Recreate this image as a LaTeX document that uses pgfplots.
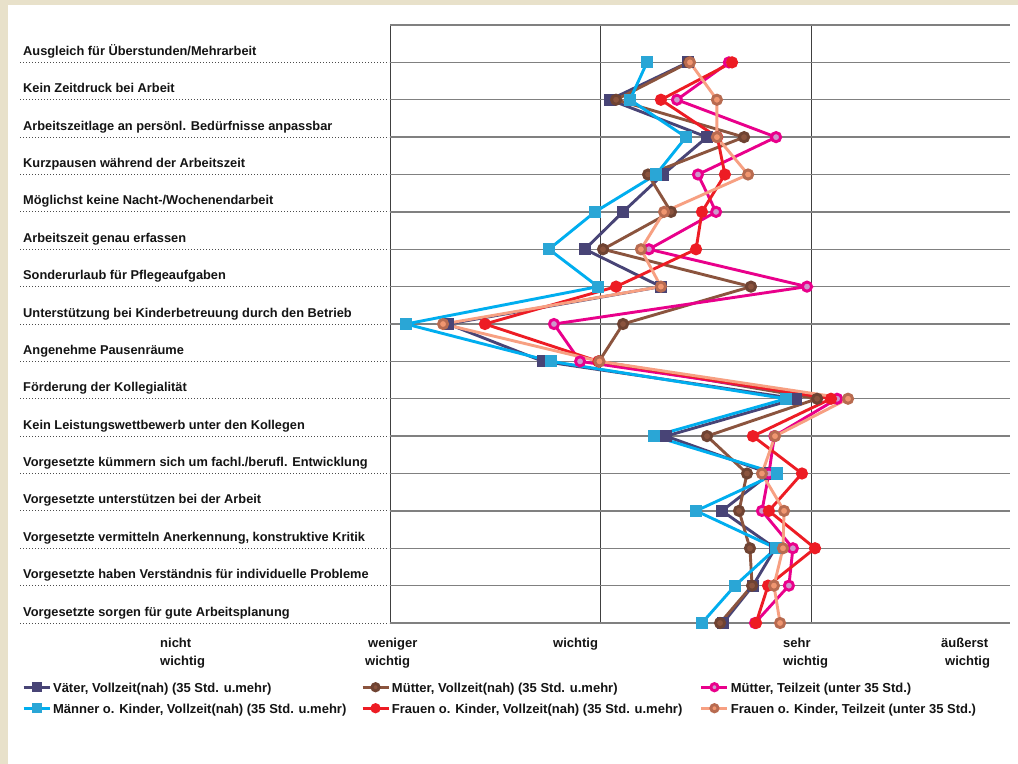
\documentclass[border=0pt]{standalone}
\usepackage{fontspec}
\setmainfont{Liberation Sans}
\usepackage{pgfplots}
\pgfplotsset{compat=1.18}

\definecolor{bgbeige}{RGB}{232,225,202}
\definecolor{vater}{RGB}{72,68,118}
\definecolor{muttervz}{RGB}{139,84,62}
\definecolor{muttertz}{RGB}{233,0,139}
\definecolor{muttertzfill}{RGB}{204,153,204}
\definecolor{maenner}{RGB}{0,174,239}
\definecolor{maennerfill}{RGB}{42,166,214}
\definecolor{frauenvz}{RGB}{237,28,36}
\definecolor{frauentz}{RGB}{247,160,130}
\definecolor{frauentzfill}{RGB}{240,150,112}
\definecolor{frauentzedge}{RGB}{184,107,80}
\definecolor{txt}{RGB}{20,20,20}

\newcommand{\lbl}{\fontsize{12.8bp}{15bp}\selectfont\bfseries\color{txt}}
\newcommand{\lgd}{\fontsize{13bp}{15bp}\selectfont\bfseries\color{txt}}
\newcommand{\lentry}[1]{\makebox[306bp][l]{\lgd #1}}

\begin{document}
\begin{tikzpicture}
% panel background
\fill[bgbeige] (0,0) rectangle (1018bp,-764bp);
\fill[white] (8bp,-5bp) rectangle (1018bp,-764bp);

\begin{axis}[
  at={(390bp,-623bp)}, anchor=south west,
  scale only axis, width=620bp, height=598bp,
  xmin=2, xmax=4.9454, ymin=-15, ymax=1,
  xtick={2,3,4}, ytick={-15,-14,...,1},
  xticklabels={}, yticklabels={},
  major tick length=0pt,
  xmajorgrids, ymajorgrids,
  x grid style={draw=black!75, line width=1bp},
  y grid style={draw=black!50, line width=1.4bp},
  axis line style={draw=none},
  clip=false,
  every axis plot/.append style={line width=2.9bp, mark size=4.6bp,
    mark options={solid, line width=0.8bp}},
  legend image code/.code={\draw[mark repeat=2,mark phase=2,#1]
    plot coordinates {(0bp,0bp) (13bp,0bp) (26bp,0bp)};},
  legend image post style={mark size=3.6bp},
  legend columns=3,
  legend cell align=left,
  legend style={at={(-0.59355,-0.0987)}, anchor=north west,
    draw=none, fill=none, inner xsep=0bp, inner ysep=0bp,
    row sep=11bp,
    nodes={inner xsep=2bp, inner ysep=0bp, text height=10bp, text depth=0bp}},
]
% Väter, Vollzeit(nah)
\addplot[color=vater, mark=square*, mark options={fill=vater, draw=vater}] coordinates {
 (3.416,0) (3.045,-1) (3.506,-2) (3.297,-3) (3.107,-4) (2.926,-5) (3.287,-6) (2.276,-7)
 (2.727,-8) (3.929,-9) (3.311,-10) (3.805,-11) (3.577,-12) (3.830,-13) (3.724,-14) (3.582,-15)};
\addlegendentry{\lentry{Väter, Vollzeit(nah) (35 Std. u.mehr)}}
% Mütter, Vollzeit(nah)
\addplot[color=muttervz, mark=*, mark options={fill=muttervz, draw=muttervz!80!black}] coordinates {
 (3.420,0) (3.074,-1) (3.682,-2) (3.226,-3) (3.335,-4) (3.012,-5) (3.715,-6) (3.107,-7)
 (2.993,-8) (4.029,-9) (3.506,-10) (3.696,-11) (3.658,-12) (3.710,-13) (3.720,-14) (3.568,-15)};
\addlegendentry{\lentry{Mütter, Vollzeit(nah) (35 Std. u.mehr)}}
% Mütter, Teilzeit
\addplot[color=muttertz, mark=*, mark options={fill=muttertzfill, draw=muttertz}] coordinates {
 (3.610,0) (3.363,-1) (3.834,-2) (3.463,-3) (3.549,-4) (3.230,-5) (3.981,-6) (2.779,-7)
 (2.903,-8) (4.124,-9) (3.826,-10) (3.800,-11) (3.767,-12) (3.914,-13) (3.895,-14) (3.734,-15)};
\addlegendentry{\lentry{Mütter, Teilzeit (unter 35 Std.)}}
% Männer ohne Kinder, Vollzeit(nah)
\addplot[color=maenner, mark=square*, mark options={fill=maennerfill, draw=maennerfill}] coordinates {
 (3.221,0) (3.140,-1) (3.406,-2) (3.264,-3) (2.974,-4) (2.755,-5) (2.988,-6) (2.076,-7)
 (2.765,-8) (3.881,-9) (3.254,-10) (3.838,-11) (3.454,-12) (3.834,-13) (3.639,-14) (3.482,-15)};
\addlegendentry{\lentry{Männer o. Kinder, Vollzeit(nah) (35 Std. u.mehr)}}
% Frauen ohne Kinder, Vollzeit(nah)
\addplot[color=frauenvz, mark=*, mark options={fill=frauenvz, draw=frauenvz}] coordinates {
 (3.625,0) (3.287,-1) (3.555,-2) (3.591,-3) (3.482,-4) (3.454,-5) (3.074,-6) (2.451,-7)
 (2.990,-8) (4.095,-9) (3.724,-10) (3.957,-11) (3.800,-12) (4.019,-13) (3.796,-14) (3.739,-15)};
\addlegendentry{\lentry{Frauen o. Kinder, Vollzeit(nah) (35 Std. u.mehr)}}
% Frauen ohne Kinder, Teilzeit
\addplot[color=frauentz, mark=*, mark options={fill=frauentzfill, draw=frauentzedge}] coordinates {
 (3.425,0) (3.553,-1) (3.553,-2) (3.701,-3) (3.302,-4) (3.192,-5) (3.287,-6) (2.252,-7)
 (2.995,-8) (4.176,-9) (3.829,-10) (3.767,-11) (3.872,-12) (3.867,-13) (3.824,-14) (3.853,-15)};
\addlegendentry{\lentry{Frauen o. Kinder, Teilzeit (unter 35 Std.)}}
\end{axis}

% item labels with dotted leaders
\foreach \t [count=\i from 0] in {
  {Ausgleich für Überstunden/Mehrarbeit},
  {Kein Zeitdruck bei Arbeit},
  {Arbeitszeitlage an persönl. Bedürfnisse anpassbar},
  {Kurzpausen während der Arbeitszeit},
  {Möglichst keine Nacht-/Wochenendarbeit},
  {Arbeitszeit genau erfassen},
  {Sonderurlaub für Pflegeaufgaben},
  {Unterstützung bei Kinderbetreuung durch den Betrieb},
  {Angenehme Pausenräume},
  {Förderung der Kollegialität},
  {Kein Leistungswettbewerb unter den Kollegen},
  {Vorgesetzte kümmern sich um fachl./berufl. Entwicklung},
  {Vorgesetzte unterstützen bei der Arbeit},
  {Vorgesetzte vermitteln Anerkennung, konstruktive Kritik},
  {Vorgesetzte haben Verständnis für individuelle Probleme},
  {Vorgesetzte sorgen für gute Arbeitsplanung}} {
  \pgfmathsetmacro\yy{-(62.375+37.375*\i)}
  \pgfmathsetmacro\yl{\yy+7}
  \draw[black!70, line width=0.9bp, dash pattern=on 1bp off 2bp] (20bp,\yy bp) -- (389bp,\yy bp);
  \node[anchor=base west, inner sep=0pt] at (23bp,\yl bp) {\lbl \t};
}

% scale labels
\node[anchor=base west, inner sep=0pt] at (160bp,-647bp) {\lgd nicht};
\node[anchor=base west, inner sep=0pt] at (160bp,-665bp) {\lgd wichtig};
\node[anchor=base west, inner sep=0pt] at (368bp,-647bp) {\lgd weniger};
\node[anchor=base west, inner sep=0pt] at (365bp,-665bp) {\lgd wichtig};
\node[anchor=base west, inner sep=0pt] at (553bp,-647bp) {\lgd wichtig};
\node[anchor=base west, inner sep=0pt] at (783bp,-647bp) {\lgd sehr};
\node[anchor=base west, inner sep=0pt] at (783bp,-665bp) {\lgd wichtig};
\node[anchor=base west, inner sep=0pt] at (941bp,-647bp) {\lgd äußerst};
\node[anchor=base west, inner sep=0pt] at (945bp,-665bp) {\lgd wichtig};

\pgfresetboundingbox
\useasboundingbox (0,0) rectangle (1018bp,-764bp);
\end{tikzpicture}
\end{document}
